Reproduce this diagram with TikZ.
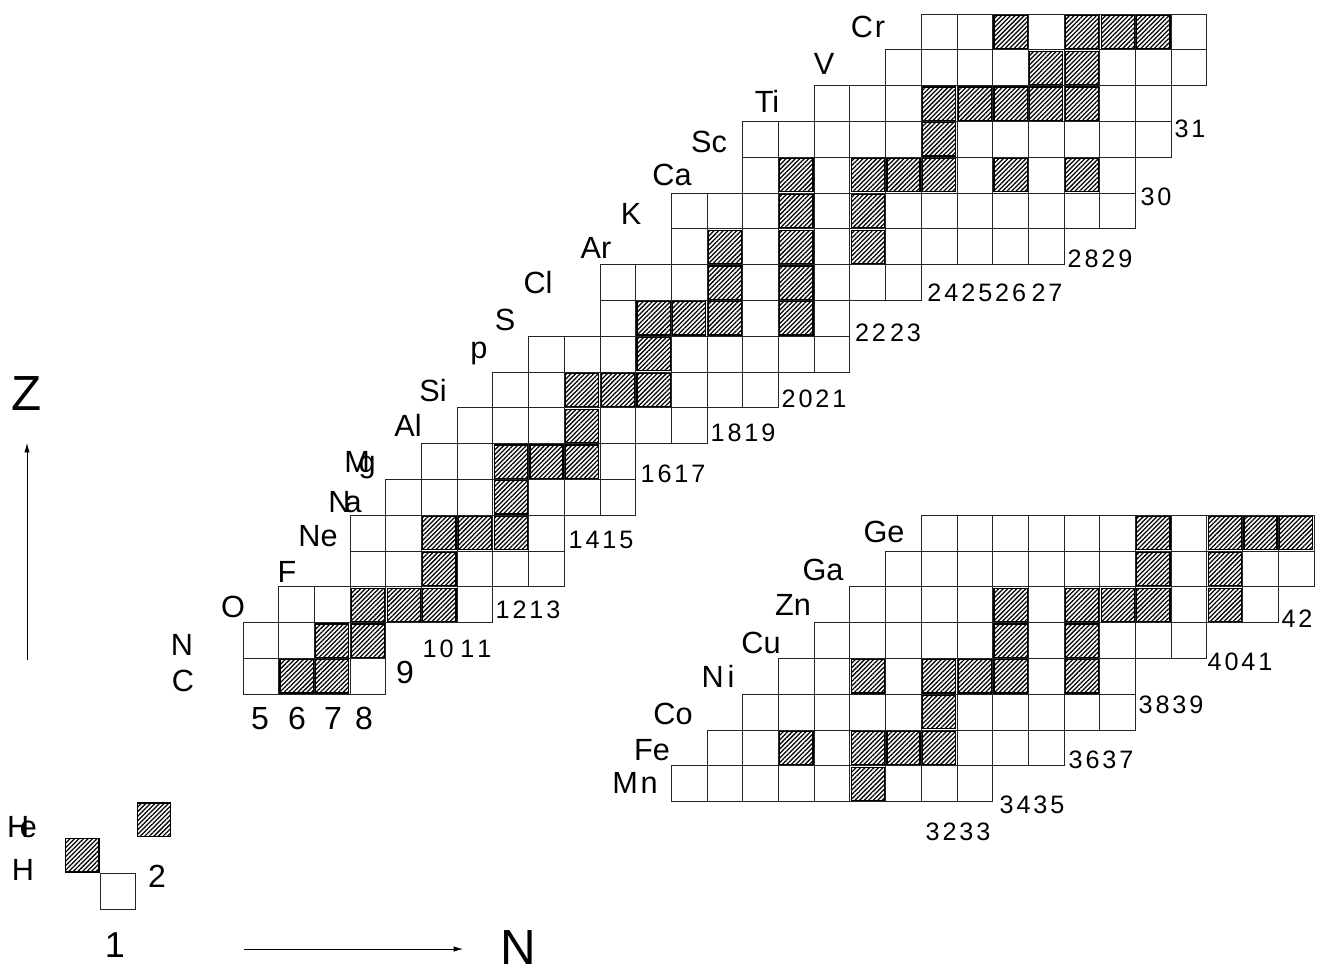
\documentclass[tikz,border=0pt]{standalone}
\usepackage{fontspec}
\setmainfont{Liberation Sans}
\usetikzlibrary{patterns.meta,arrows.meta}
\newcommand\dgsp[1]{\dgspB#1\relax}
\def\dgspB#1{#1\dgspA}
\def\dgspA#1{\ifx\relax#1\else\kern2.2pt#1\expandafter\dgspA\fi}
\begin{document}
\begin{tikzpicture}[x=0.75pt,y=-0.75pt,
  gridline/.style={draw=black!85,line width=0.7pt},
  stab/.style={draw=black,line width=0.9pt,pattern={Lines[angle=45,distance=2.4pt,line width=0.95pt]},pattern color=black},
  el/.style={font=\fontsize{23}{23}\selectfont,anchor=base,inner sep=0pt},
  num/.style={font=\fontsize{18.9}{19}\selectfont,anchor=base,inner sep=0pt},
  bignum/.style={font=\fontsize{24}{24}\selectfont,anchor=base,inner sep=0pt},
  axislbl/.style={font=\fontsize{37}{37}\selectfont,anchor=base,inner sep=0pt},
  axarrow/.style={line width=0.6pt,-{Latex[length=7pt,width=4pt]}}]
\useasboundingbox (0,0) rectangle (1324,972);
% ---------- grid cells (N,Z); lower block drawn shifted by (-8,-22)
\foreach \z/\a/\b in {0/1/1, 6/5/8, 7/5/8, 8/6/11, 9/8/13, 10/8/13, 11/9/15, 12/10/15,
  13/11/17, 14/12/19, 15/13/21, 16/15/21, 17/15/23, 18/17/27, 19/17/29, 20/19/29,
  21/19/30, 22/21/30, 23/23/31, 24/24/31,
  3/17/25, 4/18/27, 5/19/29, 6/20/29, 7/21/31, 8/22/33, 9/23/34, 10/24/34}{
  \foreach \n in {\a,...,\b}{
    \draw[gridline] ({64.5+35.7*\n},{909-35.8*\z}) rectangle ++(35.7,-35.8);
  }
}
% ---------- stable nuclides (hatched)
\foreach \z/\n in {1/0, 2/2, 6/6, 6/7, 7/7, 7/8, 8/8, 8/9, 8/10, 9/10, 10/10, 10/11, 10/12,
  11/12, 12/12, 12/13, 12/14, 13/14, 14/14, 14/15, 14/16, 15/16,
  16/16, 16/17, 16/18, 16/20, 17/18, 17/20, 18/18, 18/20, 18/22, 19/20, 19/22,
  20/20, 20/22, 20/23, 20/24, 20/26, 20/28, 21/24, 22/24, 22/25, 22/26, 22/27, 22/28,
  23/27, 23/28, 24/26, 24/28, 24/29, 24/30,
  3/22, 4/20, 4/22, 4/23, 4/24, 5/24, 6/22, 6/24, 6/25, 6/26, 6/28, 7/26, 7/28,
  8/26, 8/28, 8/29, 8/30, 8/32, 9/30, 9/32, 10/30, 10/32, 10/33, 10/34}{
  \draw[stab] ({64.5+35.7*\n+1.3},{909-35.8*\z-1.3}) rectangle ++(33.1,-33.2);
}
% ---------- element labels
\node[el] (lHe) at (22,837) {H\kern-7pt e};
\node[el] (lH) at (23,880) {H};
\node[el] (lC) at (183,691) {C};
\node[el] (lN) at (182,655) {N};
\node[el] (lO) at (233,617) {O};
\node[el] (lF) at (287,582) {F};
\node[el] (lNe) at (318,546) {Ne};
\node[el] (lNa) at (345,512) {N\kern-4.5pt a};
\node[el] (lMg) at (360,472) {M\kern-8.5pt g};
\node[el] (lAl) at (408,436) {Al};
\node[el] (lSi) at (433,401) {Si};
\node[el] (lP) at (479,358) {p};
\node[el] (lS) at (505,330) {S};
\node[el] (lCl) at (538,293) {Cl};
\node[el] (lAr) at (596,258) {Ar};
\node[el] (lK) at (631,224) {K};
\node[el] (lCa) at (672,185) {Ca};
\node[el] (lSc) at (709,152) {Sc};
\node[el] (lTi) at (767,112) {Ti};
\node[el] (lV) at (824,74) {V};
\node[el] (lCr) at (868,37) {C\kern1.5pt r};
\node[el] (lGe) at (884,542) {Ge};
\node[el] (lGa) at (823,580) {Ga};
\node[el] (lZn) at (793,615) {Zn};
\node[el] (lCu) at (761,653) {Cu};
\node[el] (lNi) at (718,687) {N\kern3pt i};
\node[el] (lCo) at (673,724) {Co};
\node[el] (lFe) at (652,760) {Fe};
\node[el] (lMn) at (635,793) {M\kern2pt n};
% ---------- number labels
\node[bignum] (n5) at (260,729) {5};
\node[bignum] (n6) at (297,729) {6};
\node[bignum] (n7) at (333,729) {7};
\node[bignum] (n8) at (364,729) {8};
\node[bignum] (n9) at (405,683) {9};
\node[bignum] (n2) at (157,887) {2};
\node[font=\fontsize{27}{27}\selectfont,anchor=base,inner sep=0pt] (n1) at (115,957) {1};
\node[num] (n1011) at (457,657) {\dgsp{10}\hspace{5pt}\dgsp{11}};
\node[num] (n1213) at (528,618) {\dgsp{1213}};
\node[num] (n1415) at (601,548) {\dgsp{1415}};
\node[num] (n1617) at (673,482) {\dgsp{1617}};
\node[num] (n1819) at (743,441) {\dgsp{1819}};
\node[num] (n2021) at (814,407) {\dgsp{2021}};
\node[num] (n2223) at (888,341) {\dgsp{22}\hspace{3pt}\dgsp{23}};
\node[num] (n2427) at (995,301) {\dgsp{242526}\hspace{4pt}\dgsp{27}};
\node[num] (n2829) at (1100,267) {\dgsp{2829}};
\node[num] (n30) at (1156,205) {\dgsp{30}};
\node[num] (n31) at (1190,137) {\dgsp{31}};
\node[num] (n42) at (1297,627) {\dgsp{42}};
\node[num] (n4041) at (1240,670) {\dgsp{4041}};
\node[num] (n3839) at (1171,713) {\dgsp{3839}};
\node[num] (n3637) at (1101,768) {\dgsp{3637}};
\node[num] (n3435) at (1032,813) {\dgsp{3435}};
\node[num] (n3233) at (958,840) {\dgsp{3233}};
% ---------- axes
\node[axislbl] (lZ) at (27,410) {Z};
\node[axislbl] (lNax) at (518,964) {N};
\coordinate (zs) at (27,660);
\coordinate (ze) at (27,443);
\coordinate (ns) at (244,949);
\coordinate (ne) at (463,949);
\draw[axarrow] (zs) -- (ze);
\draw[axarrow] (ns) -- (ne);
\end{tikzpicture}
\end{document}
